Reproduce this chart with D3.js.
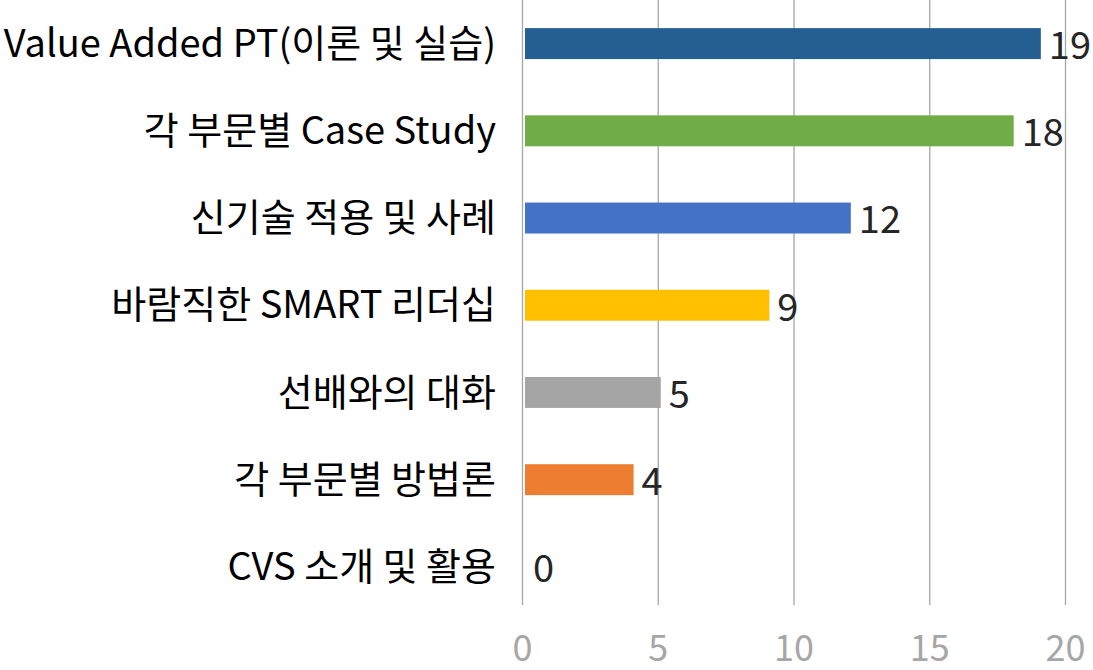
<!DOCTYPE html>
<html>
<head>
<meta charset="utf-8">
<script src="https://cdn.jsdelivr.net/npm/d3@7"></script>
<style>
  html, body { margin: 0; padding: 0; background: #fff; }
  svg { display: block; }
  text { font-family: "Noto Sans CJK KR", "Noto Sans", sans-serif; }
</style>
</head>
<body>
<svg id="chart" width="1093" height="670"></svg>
<script>
const categories = [
  "Value Added PT(이론 및 실습)",
  "각 부문별 Case Study",
  "신기술 적용 및 사례",
  "바람직한 SMART 리더십",
  "선배와의 대화",
  "각 부문별 방법론",
  "CVS 소개 및 활용"
];
const values = [19, 18, 12, 9, 5, 4, 0];
const barColors = ["#255e91", "#70ad47", "#4472c4", "#ffc000", "#a5a5a5", "#ed7d31", "#5b9bd5"];
const tickValues = [0, 5, 10, 15, 20];

const svg = d3.select("#chart");
const x = d3.scaleLinear().domain([0, 20]).range([522, 1065]);
const y = d3.scaleBand().domain(categories).range([0, 610.5]).paddingInner(0.645).paddingOuter(0.3225);

// gridlines
svg.append("g").selectAll("line").data(tickValues).join("line")
  .attr("x1", d => x(d) + 0.5).attr("x2", d => x(d) + 0.5)
  .attr("y1", 0).attr("y2", 605)
  .attr("stroke", "#a6a6a6").attr("stroke-width", 1.3);

// x axis tick labels
const xAxis = d3.axisBottom(x).tickValues(tickValues).tickSize(0).tickPadding(0);
const gx = svg.append("g").attr("transform", "translate(0,635)").call(xAxis);
gx.select(".domain").remove();
gx.selectAll("text").attr("fill", "#a6a6a6").attr("font-size", 36)
  .attr("font-family", "'Noto Sans CJK KR', sans-serif");

// category labels
const yAxis = d3.axisLeft(y).tickSize(0).tickPadding(0);
const gy = svg.append("g").attr("transform", "translate(496,1)").call(yAxis);
gy.select(".domain").remove();
gy.selectAll("text").attr("fill", "#000").attr("font-size", 38)
  .attr("font-family", "'Noto Sans CJK KR', sans-serif");

// bars
svg.append("g").selectAll("rect").data(values).join("rect")
  .attr("x", x(0) + 3)
  .attr("y", (d, i) => y(categories[i]))
  .attr("width", d => Math.max(0, x(d) - x(0)))
  .attr("height", y.bandwidth())
  .attr("fill", (d, i) => barColors[i]);

// value labels
svg.append("g").selectAll("text").data(values).join("text")
  .attr("x", d => x(d) + 11)
  .attr("y", (d, i) => y(categories[i]) + y.bandwidth() / 2 + 2)
  .attr("dy", "0.35em")
  .attr("fill", "#262626").attr("font-size", 38)
  .text(d => d);
</script>
</body>
</html>
